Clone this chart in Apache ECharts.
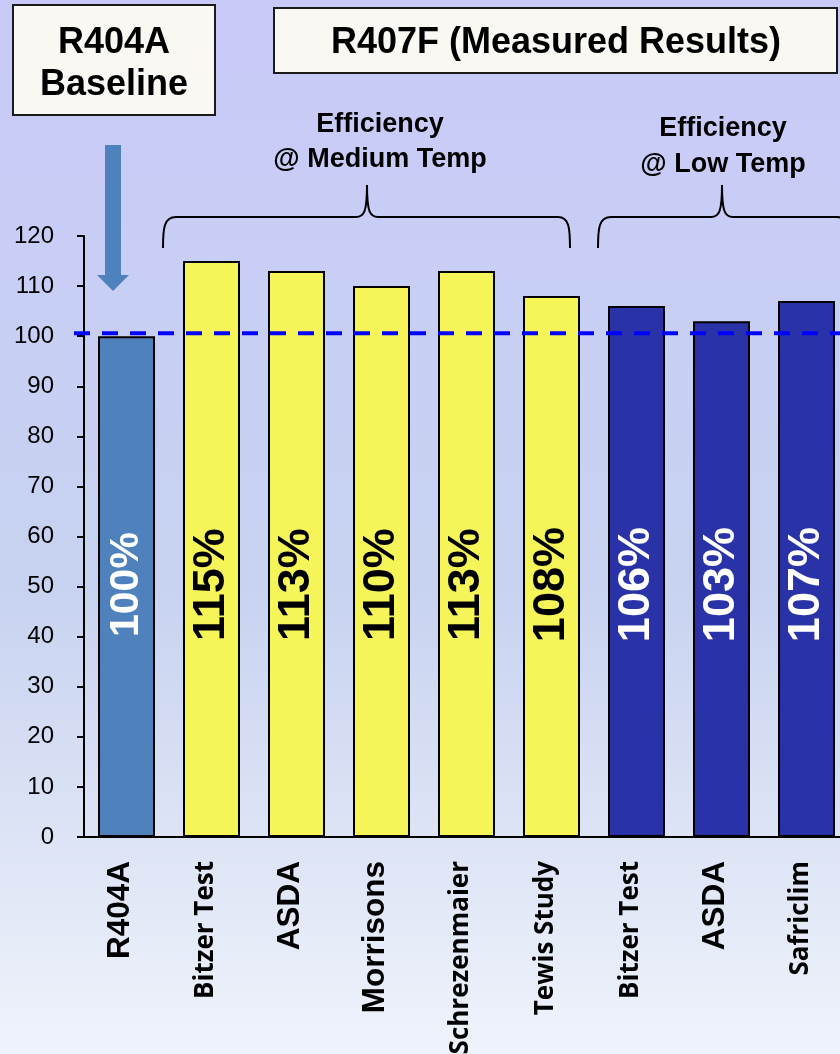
<!DOCTYPE html>
<html>
<head>
<meta charset="utf-8">
<script src="https://cdn.jsdelivr.net/npm/echarts@6/dist/echarts.min.js"></script>
<style>
  html, body { margin: 0; padding: 0; }
  #chart { width: 840px; height: 1054px; }
</style>
</head>
<body>
<div id="chart"></div>
<script>
// Efficiency relative to the R404A baseline (percent)
const categories = ['R404A', 'Bitzer Test', 'ASDA', 'Morrisons', 'Schrezenmaier', 'Tewis Study', 'Bitzer Test', 'ASDA', 'Safriclim'];
const efficiency = [100, 115, 113, 110, 113, 108, 106, 103, 107];
const groups = ['baseline', 'medium', 'medium', 'medium', 'medium', 'medium', 'low', 'low', 'low'];
const yMin = 0, yMax = 120, yStep = 10;
const baselineLevel = 100.6;   // dashed reference line
const labelLevel = 50.4;       // where the in-bar percentage text sits

const fillByGroup = { baseline: '#4f81bd', medium: '#f5f55a', low: '#2933a7' };
const textByGroup = { baseline: '#ffffff', medium: '#000000', low: '#ffffff' };
const labelSizeByGroup = { baseline: 41, medium: 45, low: 45 };
// category label face: Arial-like for short codes, humanist for longer names
const labelFace = ['a', 'c', 'a', 'a', 'c', 'c', 'c', 'a', 'c'];

const ARIAL = '"Liberation Sans", Arial, sans-serif';
const HUMAN = '"Open Sans", "Noto Sans", sans-serif';

const chart = echarts.init(document.getElementById('chart'), null, { renderer: 'canvas' });

// a horizontal curly brace: left foot, right foot, peak x, bar height, peak height
function brace(xl, xr, xp, yFoot, yBar, yPeak) {
  const st = { fill: null, stroke: '#000', lineWidth: 2 };
  const bz = (x1, y1, c1x, c1y, c2x, c2y, x2, y2) => ({
    type: 'bezierCurve', z: 11, style: st,
    shape: { x1, y1, cpx1: c1x, cpy1: c1y, cpx2: c2x, cpy2: c2y, x2, y2 }
  });
  const ln = (x1, x2) => ({ type: 'line', z: 11, style: st, shape: { x1, y1: yBar, x2, y2: yBar } });
  return [
    bz(xl, yFoot, xl, yBar + 11, xl + 1, yBar, xl + 13, yBar),
    ln(xl + 13, xp - 11),
    bz(xp - 11, yBar, xp - 3, yBar, xp, yBar - 5, xp, yPeak),
    bz(xp, yPeak, xp, yBar - 5, xp + 3, yBar, xp + 11, yBar),
    ln(xp + 11, xr - 12),
    bz(xr - 12, yBar, xr - 1, yBar, xr, yBar + 11, xr, yFoot)
  ];
}

const staticGraphics = [
  // header boxes
  { type: 'rect', shape: { x: 13, y: 5, width: 202, height: 110 },
    style: { fill: '#f9f8f3', stroke: '#1a1a1a', lineWidth: 2 }, z: 10 },
  { type: 'text', z: 11, style: { x: 114, y: 64, text: 'R404A\nBaseline', align: 'center', verticalAlign: 'middle',
    fontFamily: ARIAL, fontWeight: 'bold', fontSize: 36, lineHeight: 42, fill: '#000' } },
  { type: 'rect', shape: { x: 274, y: 8, width: 563, height: 65 },
    style: { fill: '#f9f8f3', stroke: '#1a1a1a', lineWidth: 2 }, z: 10 },
  { type: 'text', z: 11, style: { x: 556, y: 43, text: 'R407F (Measured Results)', align: 'center', verticalAlign: 'middle',
    fontFamily: ARIAL, fontWeight: 'bold', fontSize: 36, fill: '#000' } },
  // group captions
  { type: 'text', z: 11, style: { x: 380, y: 142, text: 'Efficiency\n@ Medium Temp', align: 'center', verticalAlign: 'middle',
    fontFamily: ARIAL, fontWeight: 'bold', fontSize: 27, lineHeight: 35, fill: '#000' } },
  { type: 'text', z: 11, style: { x: 723, y: 147, text: 'Efficiency\n@ Low Temp', align: 'center', verticalAlign: 'middle',
    fontFamily: ARIAL, fontWeight: 'bold', fontSize: 27, lineHeight: 36, fill: '#000' } },
  // arrow pointing at the baseline bar
  { type: 'polygon', z: 11, shape: { points: [[105, 145], [121, 145], [121, 275], [129, 275], [113, 291], [97, 275], [105, 275]] },
    style: { fill: '#4f81bd' } }
].concat(
  brace(163, 570, 367, 248, 217, 185),
  brace(598, 849, 722, 248, 217, 185)
);

const option = {
  animation: false,
  backgroundColor: {
    type: 'linear', x: 0, y: 0, x2: 0, y2: 1,
    colorStops: [
      { offset: 0, color: '#c9c9f8' },
      { offset: 0.3, color: '#c8cff4' },
      { offset: 0.55, color: '#c7d2f0' },
      { offset: 0.8, color: '#dde4f5' },
      { offset: 1, color: '#eff3fb' }
    ]
  },
  grid: { left: 84, top: 236, width: 765, bottom: 217, containLabel: false, outerBoundsMode: 'none' },
  xAxis: {
    type: 'category',
    data: categories,
    axisLine: { show: true, lineStyle: { color: '#000', width: 2 } },
    axisTick: { show: false },
    axisLabel: {
      interval: 0,
      rotate: 90,
      margin: 24,
      padding: [0, 0, 12, 0],
      formatter: (v, i) => '{' + labelFace[i] + '|' + v + '}',
      rich: {
        a: { fontFamily: ARIAL, fontWeight: 'bold', fontSize: 31.5, color: '#000' },
        c: { fontFamily: HUMAN, fontWeight: 'bold', fontSize: 26, color: '#000' }
      }
    }
  },
  yAxis: {
    type: 'value',
    min: yMin, max: yMax, interval: yStep,
    splitLine: { show: false },
    axisLine: { show: true, lineStyle: { color: '#000', width: 2 } },
    axisTick: { show: true, length: 7, lineStyle: { color: '#000', width: 2 } },
    axisLabel: { fontFamily: ARIAL, fontSize: 24, color: '#000', margin: 30 }
  },
  series: [
    {
      type: 'bar',
      barWidth: 57,
      data: efficiency.map((v, i) => ({
        value: v,
        itemStyle: { color: fillByGroup[groups[i]], borderColor: '#000', borderWidth: 2 }
      }))
    },
    {
      type: 'scatter',
      z: 5,
      symbolSize: 1,
      itemStyle: { color: 'rgba(0,0,0,0)', opacity: 1 },
      emphasis: { disabled: true },
      data: efficiency.map((v, i) => ({
        value: [i, labelLevel],
        label: {
          show: true,
          position: 'inside',
          rotate: 90,
          formatter: () => efficiency[i] + '%',
          fontFamily: ARIAL,
          fontWeight: 'bold',
          fontSize: labelSizeByGroup[groups[i]],
          color: textByGroup[groups[i]],
          opacity: 1
        }
      }))
    }
  ],
  graphic: staticGraphics
};

chart.setOption(option);

// dashed baseline reference, placed through the value axis
const yRef = chart.convertToPixel({ yAxisIndex: 0 }, baselineLevel);
chart.setOption({
  graphic: staticGraphics.concat([
    { type: 'line', z: 12, shape: { x1: 74, y1: yRef, x2: 840, y2: yRef },
      style: { stroke: '#0000ff', lineWidth: 4, lineDash: [16, 12] } }
  ])
});
</script>
</body>
</html>
